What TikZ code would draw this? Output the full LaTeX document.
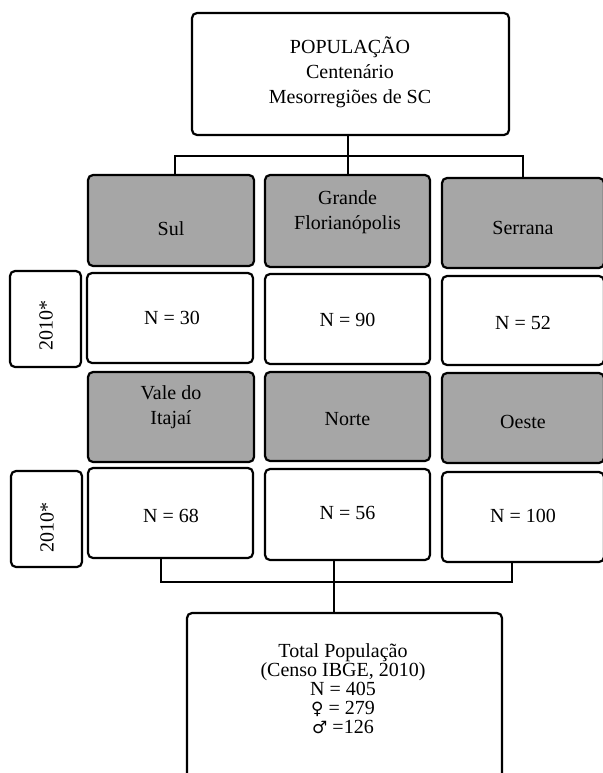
\documentclass[tikz,border=0pt]{standalone}
\usepackage{fontspec}
\setmainfont{Liberation Serif}
\newfontfamily\symfont{DejaVu Sans}
\definecolor{boxgray}{HTML}{A6A6A6}
\setlength\lineskiplimit{-20pt}
\begin{document}
\begin{tikzpicture}[x=1pt,y=-1pt,
  box/.style={draw, line width=2.2pt, rounded corners=5pt, inner sep=0pt},
  graybox/.style={box, fill=boxgray},
  whitebox/.style={box, fill=white},
  txt/.style={font=\fontsize{20}{25}\selectfont, align=center, inner sep=0pt},
  tighttxt/.style={font=\fontsize{20}{19}\selectfont, align=center, inner sep=0pt},
  conn/.style={line width=2pt}]
\useasboundingbox (0,0) rectangle (602,773);

% top box
\node[whitebox, minimum width=317pt, minimum height=122pt] (top) at (350.5,74) {};
\node[txt] (toptxt) at (350,72) {POPULAÇÃO\\Centenário\\Mesorregiões de SC};

% row 1 (gray)
\node[graybox, minimum width=166pt, minimum height=91pt] (sul) at (171,220.5) {};
\node[graybox, minimum width=165pt, minimum height=92pt] (gf) at (347.5,221) {};
\node[graybox, minimum width=162pt, minimum height=90pt] (serr) at (523,223) {};
\node[txt] (sult) at (171,229) {Sul};
\node[txt] (gft) at (347.5,212) {Grande\\Florianópolis};
\node[txt] (serrt) at (523,228) {Serrana};

% row 2 (white)
\node[whitebox, minimum width=71pt, minimum height=96pt] (y1) at (45.5,319) {};
\node[txt, rotate=90] (y1t) at (46,325) {2010*};
\node[whitebox, minimum width=166pt, minimum height=90pt] (suln) at (170,318) {};
\node[whitebox, minimum width=165pt, minimum height=90pt] (gfn) at (347.5,319) {};
\node[whitebox, minimum width=162pt, minimum height=89pt] (serrn) at (523,320.5) {};
\node[txt] (sulnt) at (172,318) {N = 30};
\node[txt] (gfnt) at (347.5,320) {N = 90};
\node[txt] (serrnt) at (523,323) {N = 52};

% row 3 (gray)
\node[graybox, minimum width=166pt, minimum height=90pt] (vale) at (171,417) {};
\node[graybox, minimum width=165pt, minimum height=89pt] (norte) at (347.5,416.5) {};
\node[graybox, minimum width=162pt, minimum height=90pt] (oeste) at (523,418) {};
\node[txt] (valet) at (171,407.5) {Vale do\\Itajaí};
\node[txt] (nortet) at (347.5,419) {Norte};
\node[txt] (oestet) at (523,422) {Oeste};

% row 4 (white)
\node[whitebox, minimum width=71pt, minimum height=96pt] (y2) at (46.5,519) {};
\node[txt, rotate=90] (y2t) at (47,527) {2010*};
\node[whitebox, minimum width=165pt, minimum height=90pt] (valen) at (170.5,513) {};
\node[whitebox, minimum width=165pt, minimum height=91pt] (norten) at (347.5,514.5) {};
\node[whitebox, minimum width=162pt, minimum height=90pt] (oesten) at (523,517) {};
\node[txt] (valent) at (171,516) {N = 68};
\node[txt] (nortent) at (347.5,513) {N = 56};
\node[txt] (oestent) at (523,516) {N = 100};

% total box
\node[whitebox, minimum width=315pt, minimum height=180pt] (total) at (344.5,703) {};
\node[tighttxt] (totalt) at (343,689) {Total População\\(Censo IBGE, 2010)\\N = 405\\{\symfont\fontsize{17}{19}\selectfont ♀} = 279\\{\symfont\fontsize{17}{19}\selectfont ♂} =126};

% connectors top
\coordinate (jl) at (175,156);
\coordinate (jr) at (523,156);
\draw[conn] (jl |- sul.north) -- (jl) -- (jr) -- (jr |- serr.north);
\draw[conn] (gf.north |- top.south) -- (gf.north);

% connectors bottom
\coordinate (bl) at (161,582);
\coordinate (br) at (512,582);
\coordinate (bm) at (334,582);
\draw[conn] (bl |- valen.south) -- (bl) -- (br) -- (br |- oesten.south);
\draw[conn] (bm |- norten.south) -- (bm |- total.north);
\end{tikzpicture}
\end{document}
